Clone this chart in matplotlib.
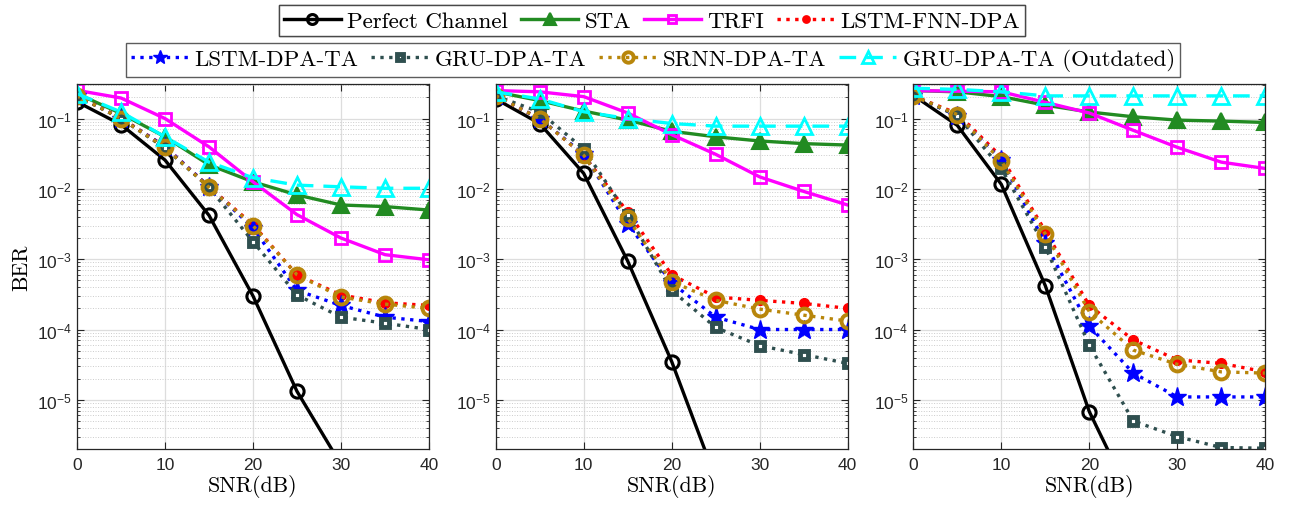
import numpy as np
import matplotlib
matplotlib.use("Agg")
import matplotlib.pyplot as plt
from matplotlib.ticker import LogLocator, NullFormatter
from matplotlib.lines import Line2D

plt.rcParams["font.family"] = ["Liberation Sans", "DejaVu Sans"]
plt.rcParams["mathtext.fontset"] = "custom"
plt.rcParams["mathtext.rm"] = "Liberation Sans"
plt.rcParams["mathtext.it"] = "Liberation Sans:italic"
plt.rcParams["mathtext.bf"] = "Liberation Sans:bold"

nan = np.nan
snr = [0, 5, 10, 15, 20, 25, 30, 35, 40]

# BER per scenario (one row per subplot)
perfect = [
    [0.173, 0.082, 0.0257, 0.0042, 3.0e-4, 1.32e-5, 1.2e-6, nan, nan],
    [0.19, 0.085, 0.0166, 9.4e-4, 3.5e-5, 7.6e-7, nan, nan, nan],
    [0.214, 0.080, 0.0116, 4.2e-4, 6.8e-6, 3.5e-7, nan, nan, nan],
]
sta = [
    [0.226, 0.118, 0.055, 0.022, 0.0126, 0.0082, 0.0059, 0.0056, 0.0050],
    [0.24, 0.18, 0.128, 0.095, 0.066, 0.055, 0.048, 0.044, 0.042],
    [0.25, 0.24, 0.205, 0.155, 0.124, 0.106, 0.095, 0.092, 0.088],
]
trfi = [
    [0.252, 0.196, 0.10, 0.0396, 0.0126, 0.0043, 0.0020, 0.00116, 0.00098],
    [0.25, 0.24, 0.205, 0.12, 0.059, 0.031, 0.0148, 0.0092, 0.0059],
    [0.25, 0.245, 0.24, 0.17, 0.12, 0.068, 0.039, 0.024, 0.0195],
]
lstm_fnn_dpa = [
    [0.21, 0.102, 0.040, 0.0107, 0.0031, 6.0e-4, 3.1e-4, 2.4e-4, 2.2e-4],
    [0.21, 0.10, 0.030, 0.0047, 6.0e-4, 2.9e-4, 2.6e-4, 2.35e-4, 2.0e-4],
    [0.21, 0.118, 0.0286, 0.0025, 2.2e-4, 7.1e-5, 3.7e-5, 3.3e-5, 2.5e-5],
]
lstm_dpa_ta = [
    [0.21, 0.10, 0.040, 0.0107, 0.0028, 3.6e-4, 2.2e-4, 1.5e-4, 1.3e-4],
    [0.21, 0.10, 0.031, 0.0032, 4.6e-4, 1.5e-4, 1.0e-4, 1.0e-4, 1.0e-4],
    [0.21, 0.11, 0.026, 0.00168, 1.12e-4, 2.4e-5, 1.1e-5, 1.1e-5, 1.1e-5],
]
gru_dpa_ta = [
    [0.21, 0.10, 0.038, 0.0105, 0.00178, 3.1e-4, 1.5e-4, 1.23e-4, 1.0e-4],
    [0.21, 0.124, 0.037, 0.0043, 3.6e-4, 1.07e-4, 5.9e-5, 4.4e-5, 3.3e-5],
    [0.21, 0.11, 0.0195, 0.0015, 6.0e-5, 5.0e-6, 3.0e-6, 2.1e-6, 2.05e-6],
]
srnn_dpa_ta = [
    [0.21, 0.10, 0.039, 0.0105, 0.0030, 6.0e-4, 2.9e-4, 2.3e-4, 2.0e-4],
    [0.21, 0.10, 0.030, 0.0038, 4.8e-4, 2.6e-4, 1.95e-4, 1.6e-4, 1.32e-4],
    [0.21, 0.114, 0.025, 0.0023, 1.8e-4, 5.1e-5, 3.2e-5, 2.5e-5, 2.4e-5],
]
gru_outdated = [
    [0.226, 0.124, 0.055, 0.024, 0.0144, 0.0113, 0.0107, 0.0102, 0.0102],
    [0.24, 0.19, 0.125, 0.10, 0.085, 0.078, 0.078, 0.078, 0.078],
    [0.27, 0.26, 0.24, 0.21, 0.21, 0.21, 0.21, 0.21, 0.21],
]

labels = ["Perfect Channel", "STA", "TRFI", "LSTM-FNN-DPA",
          "LSTM-DPA-TA", "GRU-DPA-TA", "SRNN-DPA-TA", "GRU-DPA-TA (Outdated)"]
series = [perfect, sta, trfi, lstm_fnn_dpa, lstm_dpa_ta, gru_dpa_ta, srnn_dpa_ta, gru_outdated]

styles = [
    dict(color="black", ls="-", marker="o", ms=9.5, mfc="none", mew=2.2),
    dict(color="#228B22", ls="-", marker="^", ms=11, mfc="#228B22", mew=1.5),
    dict(color="magenta", ls="-", marker="s", ms=8.5, mfc="none", mew=2.0),
    dict(color="red", ls=":", marker="o", ms=7, mfc="red", mew=1.0),
    dict(color="blue", ls=":", marker="*", ms=14, mfc="blue", mew=1.0),
    dict(color="#2F4F4F", ls=":", marker="s", ms=5.5, mfc="white", mew=3.5),
    dict(color="#B8860B", ls=":", marker="o", ms=10, mfc="none", mew=2.8),
    dict(color="cyan", ls=(0, (5, 3)), marker="^", ms=11, mfc="none", mew=2.0),
]

serif = ["cmr10", "DejaVu Serif"]

fig = plt.figure(figsize=(12.89, 5.10), dpi=100)
lefts = [77, 495.7, 913.3]
axes = []
for i, left in enumerate(lefts):
    ax = fig.add_axes([left / 1289, 60 / 510, 352 / 1289, 365 / 510])
    for data, st in zip(series, styles):
        ax.semilogy(snr, data[i], lw=2.4, **st)
    ax.set_xlim(0, 40)
    ax.set_ylim(2e-6, 0.31)
    ax.set_xticks([0, 10, 20, 30, 40])
    ax.yaxis.set_major_locator(LogLocator(base=10, numticks=10))
    ax.yaxis.set_minor_locator(LogLocator(base=10, subs=np.arange(2, 10), numticks=20))
    ax.yaxis.set_minor_formatter(NullFormatter())
    ax.grid(which="major", color="#dddddd", lw=0.9, ls="-")
    ax.grid(which="minor", axis="y", color="#cccccc", lw=0.7, ls=":")
    ax.set_axisbelow(True)
    ax.tick_params(which="both", direction="in", top=True, right=True,
                   labelsize=12.5, color="#262626", labelcolor="#262626")
    ax.tick_params(which="major", length=5)
    ax.tick_params(which="minor", length=2.5)
    ax.tick_params(axis="x", pad=6)
    for sp in ax.spines.values():
        sp.set_color("#262626")
        sp.set_linewidth(0.9)
    ax.set_xlabel("SNR(dB)", family=serif, fontsize=15.8, labelpad=1)
    axes.append(ax)
axes[0].set_ylabel("BER", family=serif, fontsize=15.8, labelpad=4)

# legend handles use slightly smaller markers
handles = []
for st in styles:
    hs = dict(st)
    hs["ms"] = st["ms"] * 0.75
    handles.append(Line2D([], [], lw=2.4, **hs))

leg_kw = dict(ncol=4, loc="center", prop=dict(family=serif, size=16.5), frameon=True,
              fancybox=False, edgecolor="#333333", handlelength=2.5,
              handletextpad=0.28, columnspacing=0.55, borderpad=0.22, borderaxespad=0)
leg1 = fig.legend(handles[:4], labels[:4], bbox_to_anchor=(652 / 1289, 1 - 21.5 / 510), **leg_kw)
leg1.get_frame().set_linewidth(1.0)
fig.add_artist(leg1)
leg2 = fig.legend(handles[4:], labels[4:], bbox_to_anchor=(653 / 1289, 1 - 61 / 510), **leg_kw)
leg2.get_frame().set_linewidth(1.0)

fig.savefig("out.png", dpi=100)
